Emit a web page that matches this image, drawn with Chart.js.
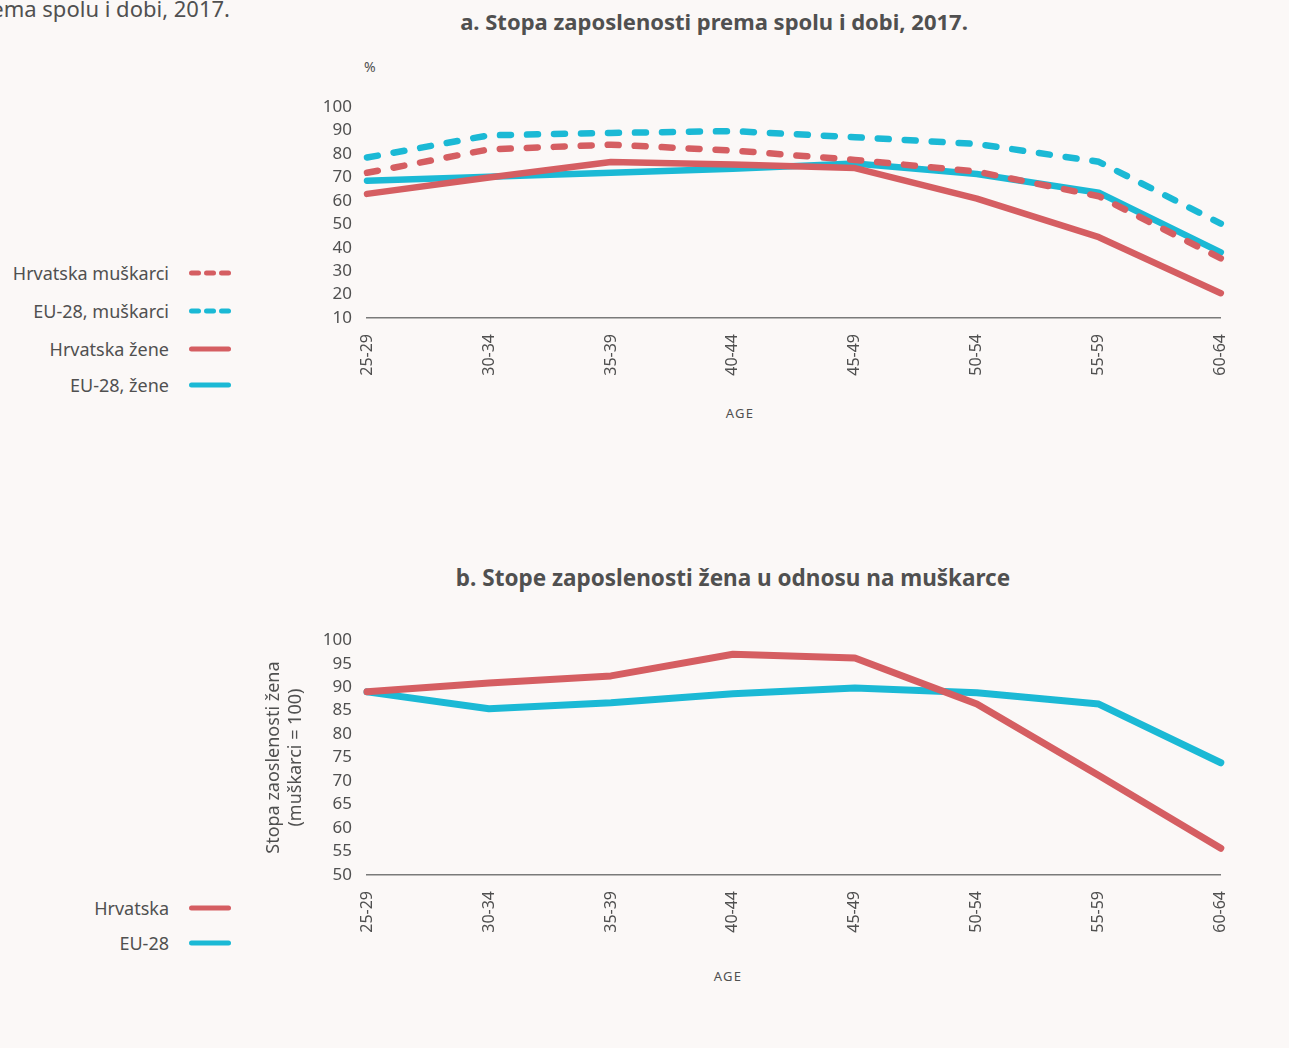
<!DOCTYPE html>
<html>
<head>
<meta charset="utf-8">
<script src="https://cdn.jsdelivr.net/npm/chart.js@4.4.0/dist/chart.umd.min.js"></script>
<style>
body{margin:0;background:#fbf8f7;font-family:"Noto Sans",sans-serif;color:#505050;}
#page{position:relative;width:1289px;height:1048px;overflow:hidden;background:#fbf8f7;}
.abs{position:absolute;white-space:nowrap;}
.title{font-weight:bold;font-size:22px;transform:translateX(-50%);}
.age{font-size:13px;letter-spacing:1.2px;transform:translateX(-50%);}
.leg{position:absolute;left:0;width:169px;text-align:right;font-size:18px;line-height:24px;white-space:nowrap;}
svg.sw{position:absolute;left:184px;}
canvas{position:absolute;}
</style>
</head>
<body>
<div id="page">
  <div class="abs" style="right:1059px;top:-6px;font-size:22px;line-height:28px;">Stopa zaposlenosti prema spolu i dobi, 2017.</div>

  <div class="abs title" style="left:714px;top:6px;">a. Stopa zaposlenosti prema spolu i dobi, 2017.</div>
  <div class="abs" style="left:364px;top:57px;font-size:14px;">%</div>
  <div class="abs age" style="left:740px;top:404px;">AGE</div>

  <div class="abs title" style="left:733px;top:562px;font-size:22.5px;">b. Stope zaposlenosti žena u odnosu na muškarce</div>
  <div class="abs age" style="left:728px;top:967px;">AGE</div>

  <div id="legendA"></div>
  <div id="legendB"></div>

  <canvas id="chartA" width="948" height="314" style="left:300px;top:82px;"></canvas>
  <canvas id="chartB" width="998" height="340" style="left:250px;top:615px;"></canvas>
</div>

<script>
const RED = '#d55e62';
const CYAN = '#1bb9d5';

const ageGroups = ['25-29', '30-34', '35-39', '40-44', '45-49', '50-54', '55-59', '60-64'];

// a. employment rate by sex and age, 2017 (%)
const hrMen = [72, 82, 84, 81.5, 77.5, 72.5, 62, 35.5];
const euMen = [78.5, 88, 89, 89.8, 87.2, 84.3, 76.7, 50.3];
const hrWomen = [63, 70, 76.6, 75.5, 74, 61, 44.5, 20.6];
const euWomen = [68.6, 70.3, 72, 73.7, 76, 71.5, 63.5, 38];

// b. women's employment rate relative to men (men = 100)
const hrRatio = [89, 90.9, 92.4, 97, 96.2, 86.4, 71.2, 55.7];
const euRatio = [89, 85.4, 86.7, 88.6, 89.8, 88.8, 86.4, 73.9];

const legendA = [
  {label: 'Hrvatska muškarci', color: RED, dashed: true, y: 273},
  {label: 'EU-28, muškarci', color: CYAN, dashed: true, y: 311},
  {label: 'Hrvatska žene', color: RED, dashed: false, y: 349},
  {label: 'EU-28, žene', color: CYAN, dashed: false, y: 385}
];
const legendB = [
  {label: 'Hrvatska', color: RED, dashed: false, y: 908},
  {label: 'EU-28', color: CYAN, dashed: false, y: 943}
];

const buildLegend = (el, items) => {
  let html = '';
  items.forEach(it => {
    html += `<div class="leg" style="top:${it.y - 12}px">${it.label}</div>`;
    let lines;
    if (it.dashed) {
      lines = `<line x1="7.5" y1="5" x2="14.5" y2="5"/><line x1="22.5" y1="5" x2="29.5" y2="5"/><line x1="37.5" y1="5" x2="44.5" y2="5"/>`;
    } else {
      lines = `<line x1="7.5" y1="5" x2="44.5" y2="5"/>`;
    }
    html += `<svg class="sw" width="52" height="10" style="top:${it.y - 5}px"><g stroke="${it.color}" stroke-width="5" stroke-linecap="round">${lines}</g></svg>`;
  });
  el.innerHTML = html;
};
buildLegend(document.getElementById('legendA'), legendA);
buildLegend(document.getElementById('legendB'), legendB);

const tickFont = {family: 'Noto Sans', size: 17};

const makeChart = (id, datasets, yMin, yMax, step, yWidth, xHeight, yTitle) => {
  return new Chart(document.getElementById(id).getContext('2d'), {
    type: 'line',
    data: {labels: ageGroups, datasets: datasets},
    options: {
      responsive: false,
      animation: false,
      layout: {padding: 0},
      plugins: {legend: {display: false}, tooltip: {enabled: false}},
      elements: {
        point: {radius: 0},
        line: {tension: 0, borderCapStyle: 'round', borderJoinStyle: 'round'}
      },
      scales: {
        x: {
          offset: false,
          grid: {display: false},
          border: {display: true, color: '#7a7a7a', width: 1.5},
          ticks: {minRotation: 90, maxRotation: 90, autoSkip: false, color: '#505050', font: {family: 'Noto Sans', size: 16}, padding: 8},
          afterFit: s => { s.height = xHeight; }
        },
        y: {
          min: yMin,
          max: yMax,
          grid: {display: false, drawTicks: false},
          border: {display: false},
          ticks: {stepSize: step, autoSkip: false, color: '#505050', font: tickFont, padding: 15},
          title: yTitle ? {
            display: true,
            text: yTitle,
            color: '#505050',
            font: {family: 'Noto Sans', size: 18, lineHeight: 1.2},
            padding: {top: 13, bottom: 0}
          } : {display: false},
          afterFit: s => { s.width = yWidth; }
        }
      }
    }
  });
};

const line = (data, color, width, dashed) => ({
  data: data,
  borderColor: color,
  backgroundColor: color,
  borderWidth: width,
  borderDash: dashed ? [11, 16] : [],
  fill: false,
  clip: false
});

makeChart('chartA', [
  line(hrMen, RED, 6.5, true),
  line(hrWomen, RED, 6.5, false),
  line(euWomen, CYAN, 6.5, false),
  line(euMen, CYAN, 6.5, true)
], 10, 100, 10, 67, 78, null);

makeChart('chartB', [
  line(hrRatio, RED, 7, false),
  line(euRatio, CYAN, 7, false)
], 50, 100, 5, 117, 80, ['Stopa zaoslenosti žena', '(muškarci = 100)']);
</script>
</body>
</html>
